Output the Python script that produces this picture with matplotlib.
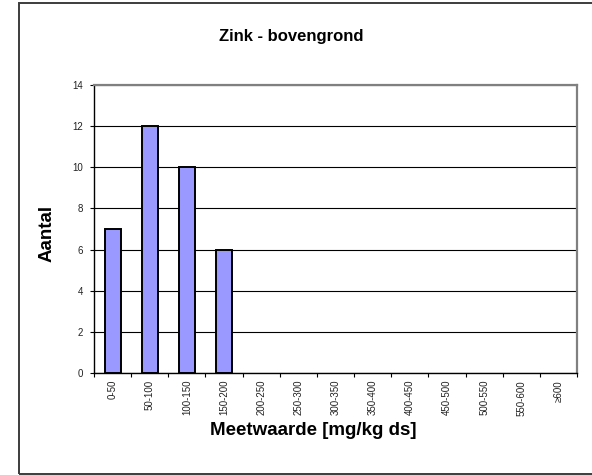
import numpy as np
import matplotlib
matplotlib.use('Agg')
import matplotlib.pyplot as plt
from matplotlib.patches import Rectangle
from matplotlib.ticker import FixedLocator

# data
klassen = ['0-50', '50-100', '100-150', '150-200', '200-250', '250-300', '300-350',
           '350-400', '400-450', '450-500', '500-550', '550-600', '\u2265600']
aantal = [7, 12, 10, 6, 0, 0, 0, 0, 0, 0, 0, 0, 0]
yticks = [0, 2, 4, 6, 8, 10, 12, 14]
title = 'Zink - bovengrond'
xlabel = 'Meetwaarde [mg/kg ds]'
ylabel = 'Aantal'

plt.rcParams['font.family'] = ['Liberation Sans', 'DejaVu Sans']
W, H = 592, 475

fig = plt.figure(figsize=(W/100, H/100), dpi=100)
# outer chart border
fig.patches.append(Rectangle((19/W, 1.5/H), 1.0, 471/H, transform=fig.transFigure,
    fill=False, edgecolor='#3c3c3c', linewidth=1.4, zorder=0))

ax = fig.add_axes([94/W, (H-373)/H, (577-94)/W, (373-85)/H])
x = np.arange(len(klassen))
# no outline on empty classes
lw = [1.4 if v > 0 else 0 for v in aantal]
ax.bar(x, aantal, width=0.43, color='#9999ff', edgecolor='black', linewidth=lw, zorder=3)

ax.set_xlim(-0.5, len(klassen)-0.5)
ax.set_ylim(0, 14)
ax.set_yticks(yticks)
ax.set_yticklabels([str(v) for v in yticks], fontsize=7, color='#222222')
ax.yaxis.grid(True, color='black', linewidth=0.8, zorder=1)
ax.set_axisbelow(True)

ax.set_xticks(x)
ax.set_xticklabels(klassen, rotation=90, fontsize=7, color='#222222')
ax.tick_params(axis='x', which='major', length=0, pad=5)
ax.xaxis.set_minor_locator(FixedLocator(np.arange(-0.5, len(klassen), 1.0)))
ax.tick_params(axis='x', which='minor', length=3, width=0.8, direction='out')
ax.tick_params(axis='y', length=3, width=0.8, direction='out', pad=5)

for side in ['top', 'right']:
    ax.spines[side].set_color('#808080')
    ax.spines[side].set_linewidth(1.6)
for side in ['left', 'bottom']:
    ax.spines[side].set_color('black')
    ax.spines[side].set_linewidth(1.0)

fig.text(313/W, 1-435/H, xlabel, fontsize=13.5, fontweight='bold', ha='center', va='baseline')
fig.text(47/W, 1-233/H, ylabel, fontsize=13.5, fontweight='bold', ha='center', va='center', rotation=90)
fig.text(291/W, 1-41/H, title, fontsize=12, fontweight='bold', ha='center', va='baseline')

fig.savefig('out.png', dpi=100)
